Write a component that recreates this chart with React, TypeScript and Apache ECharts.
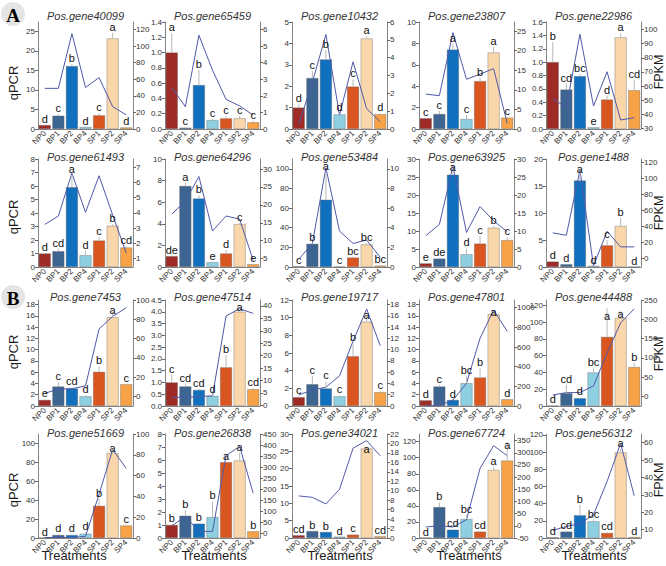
import React, { useEffect, useRef } from 'react';
import * as echarts from 'echarts';

const treatments = ['NP0', 'BP1', 'BP2', 'BP4', 'SP1', 'SP2', 'SP4'];
const barColors = ['#9e2b26', '#3d6592', '#1170be', '#8ecfe2', '#da5620', '#fad7ab', '#f7a247'];

const genes = [
  'Pos.gene40099', 'Pos.gene65459', 'Pos.gene10432', 'Pos.gene23807', 'Pos.gene22986',
  'Pos.gene61493', 'Pos.gene64296', 'Pos.gene53484', 'Pos.gene63925', 'Pos.gene1488',
  'Pos.gene7453', 'Pos.gene47514', 'Pos.gene19717', 'Pos.gene47801', 'Pos.gene44488',
  'Pos.gene51669', 'Pos.gene26838', 'Pos.gene34021', 'Pos.gene67724', 'Pos.gene56312',
];

const qpcr = [
  [1.0, 3.4, 16.1, 0.5, 3.5, 23.2, 0.4],
  [1.0, 0.017, 0.575, 0.117, 0.139, 0.139, 0.087],
  [1.0, 2.38, 3.25, 0.68, 1.98, 4.23, 0.69],
  [1.0, 1.4, 7.42, 0.93, 4.47, 7.14, 1.06],
  [1.0, 0.59, 0.79, 0.025, 0.44, 1.37, 0.58],
  [1.0, 1.17, 5.91, 0.87, 1.96, 3.06, 1.44],
  [1.0, 7.5, 6.34, 0.44, 1.25, 3.97, 0.25],
  [0.7, 23.6, 68.5, 0.5, 9.6, 23, 1.4],
  [1.0, 2.33, 25.6, 3.54, 6.5, 10.9, 7.46],
  [1.0, 0.5, 16.0, 0.2, 4.0, 7.6, 0.06],
  [1.07, 3.45, 3.1, 1.72, 6.06, 15.75, 3.86],
  [1.0, 0.83, 0.68, 0.43, 1.64, 4.0, 0.71],
  [0.99, 2.47, 1.98, 1.1, 5.63, 9.54, 1.56],
  [1.0, 3.45, 1.07, 4.04, 5.05, 16.3, 1.19],
  [0.4, 15.2, 9.2, 40, 82.4, 105, 46.4],
  [0.35, 3.1, 3.1, 4.5, 34, 90, 13.2],
  [1.0, 1.71, 1.1, 1.61, 5.83, 5.96, 0.51],
  [0.77, 2.0, 1.73, 0.38, 0.96, 25.8, 0.48],
  [0.4, 38.5, 10.3, 23.6, 7.9, 84.8, 96.4],
  [0.8, 7.4, 26.4, 19.4, 5.8, 99.6, 1.2],
];

const qpcrErr = [
  [0.15, 0.5, 0.5, 0.1, 0.6, 1.4, 0.1],
  [0.25, 0.005, 0.2, 0.02, 0.03, 0.03, 0.02],
  [0.18, 0.33, 0.43, 0.05, 0.34, 0.1, 0.05],
  [0.05, 0.3, 0.55, 0.37, 0.3, 0.5, 0.05],
  [0.3, 0.09, 0.03, 0.005, 0.06, 0.06, 0.15],
  [0.05, 0.2, 0.9, 0.35, 0.25, 0.1, 0.1],
  [0.05, 0.3, 0.3, 0.05, 0.3, 0.1, 0.05],
  [0.3, 1, 28, 0.2, 1, 1.5, 0.3],
  [0.1, 0.2, 2.3, 1.6, 2.0, 0.5, 0.8],
  [0.1, 0.1, 1.7, 0.05, 1.0, 1.5, 0.02],
  [0.1, 0.8, 0.2, 0.2, 0.95, 1.0, 0.1],
  [0.33, 0.12, 0.05, 0.05, 0.54, 0.05, 0.05],
  [0.1, 0.95, 0.8, 0.1, 1.5, 0.7, 0.1],
  [0.05, 0.3, 0.05, 1.2, 1.65, 0.4, 0.05],
  [0.2, 10, 1, 5, 34, 8, 5],
  [0.1, 1, 1, 1.5, 7.6, 5, 1],
  [0.05, 0.45, 0.05, 1.2, 0.05, 0.6, 0.05],
  [0.05, 0.1, 0.1, 0.05, 0.1, 0.3, 0.05],
  [0.1, 5.8, 1, 5, 1, 4, 23],
  [0.1, 1, 12, 2, 1, 4, 0.2],
];

const letters = [
  ['d', 'c', 'b', 'd', 'c', 'a', 'd'],
  ['a', 'c', 'b', 'c', 'c', 'c', 'c'],
  ['d', 'c', 'b', 'd', 'c', 'a', 'd'],
  ['c', 'c', 'a', 'c', 'b', 'a', 'c'],
  ['b', 'cd', 'bc', 'e', 'd', 'a', 'cd'],
  ['d', 'cd', 'a', 'd', 'c', 'b', 'cd'],
  ['de', 'a', 'b', 'e', 'd', 'c', 'e'],
  ['c', 'b', 'a', 'c', 'bc', 'bc', 'bc'],
  ['e', 'de', 'a', 'd', 'c', 'b', 'c'],
  ['d', 'd', 'a', 'd', 'c', 'b', 'd'],
  ['e', 'c', 'cd', 'd', 'b', 'a', 'c'],
  ['c', 'cd', 'cd', 'd', 'b', 'a', 'cd'],
  ['c', 'c', 'c', 'c', 'b', 'a', 'c'],
  ['d', 'c', 'd', 'bc', 'b', 'a', 'd'],
  ['d', 'cd', 'd', 'bc', 'a', 'a', 'b'],
  ['d', 'd', 'd', 'd', 'b', 'a', 'c'],
  ['b', 'b', 'b', 'b', 'a', 'a', 'b'],
  ['cd', 'b', 'b', 'd', 'c', 'a', 'cd'],
  ['d', 'b', 'cd', 'bc', 'cd', 'a', 'a'],
  ['d', 'cd', 'b', 'bc', 'cd', 'a', 'd'],
];

// letters that sit beside (not above) their error bar: panel, bar, qPCR level
const letterPanel = [14, 14, 18, 8, 11, 9, 17, 13, 12, 10, 15];
const letterBar = [4, 5, 6, 2, 5, 2, 5, 5, 5, 5, 5];
const letterLevel = [100, 102, 108, 26, 3.95, 17.0, 24, 15.6, 9.6, 15.9, 89];

const fpkm = [
  [49, 49, 115, 50, 62, 27, 17],
  [2.5, 1.35, 5.66, 3.55, 1.79, 1.39, 0.84],
  [0.28, 2.62, 5.3, 0.78, 3.77, 1.14, 0.41],
  [8.9, 8.5, 24.6, 12.7, 14.0, 15.4, 1.44],
  [50.8, 44.9, 96.7, 45.8, 70.1, 35.9, 37.5],
  [3.24, 3.79, 6.6, 4.03, 6.43, 3.86, 1.37],
  [17.4, 21.1, 27.9, 12.7, 16.9, 16.0, 4.5],
  [0.79, 2.4, 10.1, 3.66, 2.4, 2.74, 1.0],
  [8.7, 11.8, 28, 9.6, 16.8, 12.8, 9.8],
  [32, 29, 110, -9, 34, 14.6, 14.6],
  [3.5, 7.6, 8.3, 11, 70, 83, 92],
  [3.2, 3.2, 3.5, 3.8, 36, 38.9, 37],
  [1.96, 2.85, 3.33, 5.35, 11.5, 17.2, 10.7],
  [2, 5, 60, 230, 690, 975, 760],
  [4.3, 10.4, 10.4, 27.8, 113, 191, 227],
  [0.5, 0.5, 0.5, 1.6, 42, 85, 67],
  [33, 75, 7.5, 7.5, 352, 393, 181],
  [8.9, 8.6, 7.2, 10.3, 19.0, 20.6, 17.4],
  [-5, 0.5, -5, 25, 236, 329, 288],
  [9.6, 11.9, 13.4, 18.6, 37.7, 59.6, 29.5],
];

const leftMax = [27.4, 1.4, 5, 10, 1.6, 8, 10, 110, 30, 20, 18.8, 4.5, 12, 18.8, 126.4, 110, 8, 30, 129.5, 121];
const leftDecimals = [0, 1, 0, 0, 1, 0, 0, 0, 0, 0, 0, 1, 0, 0, 0, 0, 0, 0, 0, 0];
const leftTicks = [
  [0, 5, 10, 15, 20, 25],
  [0, 0.2, 0.4, 0.6, 0.8, 1.0, 1.2, 1.4],
  [0, 1, 2, 3, 4, 5],
  [0, 2, 4, 6, 8, 10],
  [0, 0.2, 0.4, 0.6, 0.8, 1.0, 1.2, 1.4, 1.6],
  [0, 1, 2, 3, 4, 5, 6, 7, 8],
  [0, 2, 4, 6, 8, 10],
  [0, 20, 40, 60, 80, 100],
  [0, 5, 10, 15, 20, 25, 30],
  [0, 5, 10, 15, 20],
  [0, 2, 4, 6, 8, 10, 12, 14, 16, 18],
  [0, 0.5, 1.0, 1.5, 2.0, 2.5, 3.0, 3.5, 4.0, 4.5],
  [0, 2, 4, 6, 8, 10, 12],
  [0, 2, 4, 6, 8, 10, 12, 14, 16, 18],
  [0, 20, 40, 60, 80, 100, 120],
  [0, 20, 40, 60, 80, 100],
  [0, 1, 2, 3, 4, 5, 6, 7, 8],
  [0, 5, 10, 15, 20, 25, 30],
  [0, 20, 40, 60, 80, 100, 120],
  [0, 20, 40, 60, 80, 100, 120],
];

const rightMin = [0, 0, 0, 0, 29.5, 0.45, 2.66, 0, 0, -10.4, -9.7, -0.27, 0, 0, -24.3, 0, -22.6, 0, -50, 5.2];
const rightMax = [129, 6.46, 6, 27.3, 105.4, 7.53, 32.8, 11, 30, 123.75, 100, 42.4, 18.8, 1078, 250, 100, 450, 22, 377, 65];
const rightTicks = [
  [0, 20, 40, 60, 80, 100, 120],
  [0, 1, 2, 3, 4, 5, 6],
  [0, 1, 2, 3, 4, 5, 6],
  [0, 5, 10, 15, 20, 25],
  [30, 40, 50, 60, 70, 80, 90, 100],
  [1, 2, 3, 4, 5, 6, 7],
  [5, 10, 15, 20, 25, 30],
  [0, 2, 4, 6, 8, 10],
  [0, 5, 10, 15, 20, 25, 30],
  [0, 20, 40, 60, 80, 100, 120],
  [0, 20, 40, 60, 80, 100],
  [0, 5, 10, 15, 20, 25, 30, 35, 40],
  [0, 2, 4, 6, 8, 10, 12, 14, 16, 18],
  [0, 200, 400, 600, 800, 1000],
  [0, 50, 100, 150, 200, 250],
  [0, 20, 40, 60, 80, 100],
  [0, 50, 100, 150, 200, 250, 300, 350, 400, 450],
  [0, 2, 4, 6, 8, 10, 12, 14, 16, 18, 20, 22],
  [-50, 0, 50, 100, 150, 200, 250, 300, 350],
  [10, 20, 30, 40, 50, 60],
];

const FONT = '"Liberation Sans", Arial, sans-serif';
const colLeft = [38, 165, 292, 419, 546];
const gridW = 95;
const rowTop = [22, 159, 300, 434];
const rowBottom = [129, 267, 406, 538];
const titleY = [16, 157, 297, 433];
const qpcrY = [83, 217, 352, 490];
const fpkmY = [72, 213, 354, 480];
const treatX = [74, 214, 340, 469, 594];

export default function App() {
  const ref = useRef<HTMLDivElement>(null);
  useEffect(() => {
    if (!ref.current) return;
    const chart = echarts.init(ref.current, null, { renderer: 'svg' });
    const grid: any[] = [];
    const xAxis: any[] = [];
    const yAxis: any[] = [];
    const series: any[] = [];
    const graphic: any[] = [];
    const axisColor = '#666';
    const textBase = { x: 0, y: 0, align: 'center', verticalAlign: 'middle', textAlign: 'center', textVerticalAlign: 'middle', fontFamily: FONT, fontWeight: 'normal', fill: '#1a1a1a' };

    for (let i = 0; i < genes.length; i++) {
      const r = Math.floor(i / 5);
      const c = i % 5;
      grid.push({ left: colLeft[c], top: rowTop[r], width: gridW, height: rowBottom[r] - rowTop[r] });
      xAxis.push({
        type: 'category', gridIndex: i, data: treatments,
        axisLine: { show: true, lineStyle: { color: axisColor, width: 0.8 } },
        axisTick: { show: false },
        axisLabel: { rotate: 45, interval: 0, fontSize: 8, margin: 3, color: '#333', fontFamily: FONT },
      });
      const dec = leftDecimals[i];
      yAxis.push({
        type: 'value', gridIndex: i, position: 'left', min: 0, max: leftMax[i],
        splitLine: { show: false },
        axisLine: { show: true, lineStyle: { color: axisColor, width: 0.8 } },
        axisTick: { show: true, length: 3, customValues: leftTicks[i], lineStyle: { color: axisColor } },
        axisLabel: {
          fontSize: 8, margin: 3, color: '#333', fontFamily: FONT, customValues: leftTicks[i],
          formatter: (v: number) => v.toFixed(dec),
        },
      });
      yAxis.push({
        type: 'value', gridIndex: i, position: 'right', min: rightMin[i], max: rightMax[i],
        splitLine: { show: false },
        axisLine: { show: true, lineStyle: { color: axisColor, width: 0.8 } },
        axisTick: { show: true, length: 3, customValues: rightTicks[i], lineStyle: { color: axisColor } },
        axisLabel: {
          fontSize: 8, margin: 3, color: '#333', fontFamily: FONT, customValues: rightTicks[i],
          formatter: (v: number) => String(v),
        },
      });
      series.push({
        type: 'bar', xAxisIndex: i, yAxisIndex: 2 * i, barCategoryGap: '12%', z: 2,
        data: qpcr[i].map((v, j) => ({ value: v, itemStyle: { color: barColors[j] } })),
        itemStyle: { borderColor: 'rgba(90,90,90,0.7)', borderWidth: 0.5 },
      });
      series.push({
        type: 'line', xAxisIndex: i, yAxisIndex: 2 * i + 1, data: fpkm[i], z: 3,
        symbol: 'none', lineStyle: { color: '#5059a8', width: 1 },
      });
      const lets = letters[i];
      const panel = i;
      series.push({
        type: 'custom', xAxisIndex: i, yAxisIndex: 2 * i, z: 4,
        data: qpcr[i].map((v, j) => [j, v, qpcrErr[i][j]]),
        renderItem: (params: any, api: any) => {
          const j = api.value(0);
          const v = api.value(1);
          const e = api.value(2);
          const p0 = api.coord([j, v]);
          const p1 = api.coord([j, v + e]);
          let ly = p1[1];
          for (let k = 0; k < letterPanel.length; k++) {
            if (letterPanel[k] === panel && letterBar[k] === params.dataIndex) ly = api.coord([j, letterLevel[k]])[1];
          }
          return {
            type: 'group',
            children: [
              { type: 'line', shape: { x1: p0[0], y1: p0[1], x2: p1[0], y2: p1[1] }, style: { stroke: '#b8b8b8', lineWidth: 1 } },
              {
                type: 'text',
                style: {
                  text: lets[params.dataIndex], x: p1[0], y: ly - 0.5,
                  align: 'center', verticalAlign: 'bottom', textAlign: 'center', textVerticalAlign: 'bottom',
                  fontSize: 11, fontFamily: FONT, fill: '#111',
                },
              },
            ],
          };
        },
      });
      graphic.push({
        type: 'text', x: colLeft[c] + gridW / 2, y: titleY[r],
        style: { ...textBase, text: genes[i], fontSize: 11, fontStyle: 'italic', fill: '#333' },
      });
    }

    for (let r = 0; r < 4; r++) {
      graphic.push({
        type: 'text', x: 13, y: qpcrY[r], rotation: Math.PI / 2,
        style: { ...textBase, text: 'qPCR', fontSize: 13 },
      });
      graphic.push({
        type: 'text', x: 659, y: fpkmY[r], rotation: Math.PI / 2,
        style: { ...textBase, text: 'FPKM', fontSize: 12.5 },
      });
    }
    for (let c = 0; c < 5; c++) {
      graphic.push({
        type: 'text', x: treatX[c], y: 555,
        style: { ...textBase, text: 'Treatments', fontSize: 13 },
      });
    }
    const panelLabels = [['A', 14], ['B', 297]];
    for (const [t, cy] of panelLabels as [string, number][]) {
      graphic.push({ type: 'circle', shape: { cx: 13, cy, r: 12 }, style: { fill: '#e4e4e4' } });
      graphic.push({
        type: 'text', x: 13, y: cy + 1,
        style: { ...textBase, text: t, fontSize: 19, fontWeight: 'bold', fontFamily: '"Liberation Serif", "DejaVu Serif", serif', fill: '#000' },
      });
    }

    chart.setOption({
      animation: false,
      backgroundColor: '#ffffff',
      textStyle: { fontFamily: FONT },
      grid, xAxis, yAxis, series, graphic,
    });
    return () => chart.dispose();
  }, []);
  return <div ref={ref} style={{ position: 'fixed', left: 0, top: 0, width: 666, height: 566 }} />;
}
